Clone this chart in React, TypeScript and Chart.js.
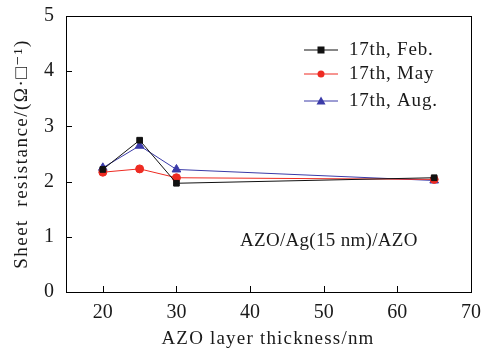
import React, { useEffect, useRef } from "react";
import { Chart, registerables } from "chart.js";
Chart.register(...registerables);

const thickness = [20, 25, 30, 65];
const febValues = [2.22, 2.75, 1.97, 2.07];
const mayValues = [2.17, 2.23, 2.07, 2.04];
const augValues = [2.25, 2.65, 2.22, 2.02];
const seriesLabels = ["17th, Feb.", "17th, May", "17th, Aug."];
const xTicks = [20, 30, 40, 50, 60, 70];
const yTicks = [0, 1, 2, 3, 4, 5];
const sampleLabel = "AZO/Ag(15 nm)/AZO";
const xTitle = "AZO layer thickness/nm";
const yTitle = "Sheet  resistance/(Ω·□⁻¹)";

const FONT = "'Liberation Serif', 'DejaVu Serif', serif";

const frame = {
  id: "frame",
  afterDraw(chart: any) {
    const { ctx, chartArea: a, scales } = chart;
    ctx.save();
    ctx.strokeStyle = "#000";
    ctx.lineWidth = 1;
    ctx.strokeRect(a.left + 0.5, a.top + 0.5, a.right - a.left, a.bottom - a.top);
    ctx.beginPath();
    for (const v of xTicks) {
      const x = Math.round(scales.x.getPixelForValue(v)) + 0.5;
      ctx.moveTo(x, a.bottom);
      ctx.lineTo(x, a.bottom - 6);
    }
    for (const v of yTicks) {
      const y = Math.round(scales.y.getPixelForValue(v)) + 0.5;
      ctx.moveTo(a.left, y);
      ctx.lineTo(a.left + 6, y);
    }
    ctx.stroke();
    // legend
    const items = chart.data.datasets;
    const ys = [50, 74, 101];
    items.forEach((ds: any, i: number) => {
      const y = ys[i];
      ctx.strokeStyle = ds.borderColor;
      ctx.lineWidth = 1;
      ctx.beginPath();
      ctx.moveTo(304, y);
      ctx.lineTo(338, y);
      ctx.stroke();
      ctx.fillStyle = ds.pointBackgroundColor;
      const cx = 321;
      if (ds.pointStyle === "rect") ctx.fillRect(cx - 3.5, y - 3.5, 7, 7);
      else if (ds.pointStyle === "circle") {
        ctx.beginPath(); ctx.arc(cx, y, 3.5, 0, Math.PI * 2); ctx.fill();
      } else {
        ctx.beginPath(); ctx.moveTo(cx, y - 4.5); ctx.lineTo(cx + 4.5, y + 3.5); ctx.lineTo(cx - 4.5, y + 3.5); ctx.closePath(); ctx.fill();
      }
      ctx.fillStyle = "#1a1a1a";
      ctx.font = `19px ${FONT}`;
      (ctx as any).letterSpacing = "0.8px";
      ctx.textAlign = "left";
      ctx.textBaseline = "middle";
      ctx.fillText(ds.label, 349, y);
    });
    ctx.font = `19px ${FONT}`;
    (ctx as any).letterSpacing = "0.3px";
    ctx.textAlign = "left";
    ctx.textBaseline = "middle";
    ctx.fillStyle = "#1a1a1a";
    ctx.fillText(sampleLabel, 240, 241);
    // axis titles
    (ctx as any).letterSpacing = "1.2px";
    ctx.textAlign = "center";
    ctx.fillText(xTitle, 268, 339);
    ctx.translate(22, 154);
    ctx.rotate(-Math.PI / 2);
    (ctx as any).letterSpacing = "1.5px";
    ctx.fillText(yTitle, 0, 0);
    ctx.restore();
  },
};

export default function App() {
  const ref = useRef<HTMLCanvasElement>(null);
  useEffect(() => {
    document.body.style.margin = "0";
    const mk = (label: string, data: number[], color: string, ps: string, r: number) => ({
      label,
      data: thickness.map((x, i) => ({ x, y: data[i] })),
      borderColor: color,
      backgroundColor: color,
      pointBackgroundColor: color,
      pointBorderColor: color,
      pointStyle: ps,
      pointRadius: r,
      borderWidth: 1,
      showLine: true,
      tension: 0,
    });
    const chart = new Chart(ref.current!, {
      type: "scatter",
      data: {
        datasets: [
          mk(seriesLabels[0], febValues, "#111", "rect", 4),
          mk(seriesLabels[1], mayValues, "#ee2b22", "circle", 4),
          mk(seriesLabels[2], augValues, "#3a3aa8", "triangle", 5),
        ] as any,
      },
      options: {
        animation: false,
        responsive: false,
        layout: { padding: { top: 13, right: 14, left: 0, bottom: 0 } },
        plugins: { legend: { display: false }, tooltip: { enabled: false } },
        scales: {
          x: {
            type: "linear",
            min: 15,
            max: 70,
            afterBuildTicks: (s: any) => { s.ticks = xTicks.map((v) => ({ value: v })); },
            afterFit: (s: any) => { s.height = 57; },
            grid: { display: false },
            border: { display: true, color: "#000" },
            ticks: { color: "#1a1a1a", font: { family: FONT, size: 20 }, padding: 1 },
          },
          y: {
            type: "linear",
            min: 0,
            max: 5,
            afterBuildTicks: (s: any) => { s.ticks = yTicks.map((v) => ({ value: v })); },
            afterFit: (s: any) => { s.width = 66; },
            grid: { display: false },
            border: { display: true, color: "#000" },
            ticks: { color: "#1a1a1a", font: { family: FONT, size: 20 }, padding: 4 },
          },
        },
      } as any,
      plugins: [frame],
    });
    return () => chart.destroy();
  }, []);
  return (
    <div style={{ position: "absolute", left: 0, top: 0, width: 485, height: 349, background: "#fff" }}>
      <canvas ref={ref} width={485} height={349} />
    </div>
  );
}
